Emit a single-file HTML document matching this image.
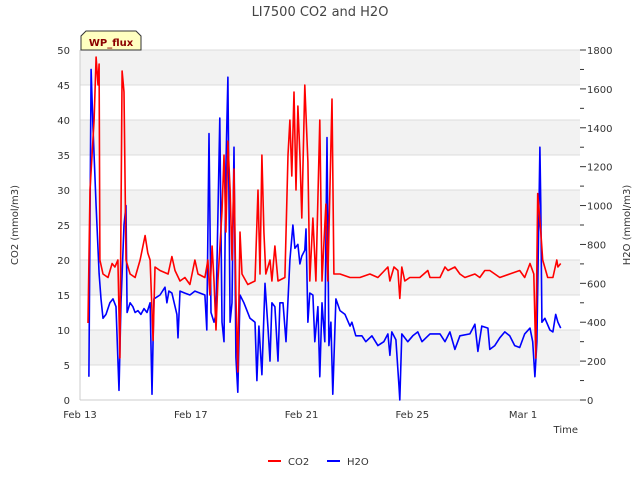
<!DOCTYPE html>
<html><head><meta charset="utf-8"><style>
body{margin:0;background:#fff;font-family:"DejaVu Sans",sans-serif}
svg{display:block}
</style></head><body>
<svg id="c" width="640" height="480" xmlns="http://www.w3.org/2000/svg" font-family="DejaVu Sans, Liberation Sans, sans-serif"></svg>
<script>
const xTickLabels=["Feb 13","Feb 17","Feb 21","Feb 25","Mar 1"];
const xTickDays=[0,4,8,12,16];
const leftTicks=[0,5,10,15,20,25,30,35,40,45,50];
const rightTicks=[0,200,400,600,800,1000,1200,1400,1600,1800];
const co2T=[.29,.36,.51,.58,.65,.69,.72,.83,1.01,1.16,1.26,1.37,1.44,1.52,1.59,1.66,1.81,1.99,2.17,2.35,2.45,2.53,2.64,2.71,2.89,3.18,3.32,3.43,3.61,3.79,3.97,4.15,4.26,4.51,4.62,4.69,4.77,4.84,4.91,4.98,5.13,5.20,5.27,5.34,5.42,5.49,5.56,5.63,5.70,5.78,5.85,6.06,6.32,6.43,6.50,6.57,6.64,6.71,6.86,6.93,7.04,7.15,7.40,7.51,7.58,7.65,7.73,7.80,7.87,7.94,8.01,8.12,8.23,8.30,8.41,8.52,8.66,8.74,8.88,8.95,9.10,9.17,9.39,9.75,10.11,10.47,10.76,11.12,11.19,11.34,11.48,11.55,11.62,11.73,11.91,12.27,12.56,12.64,13.00,13.18,13.29,13.54,13.72,13.90,14.26,14.44,14.62,14.80,15.16,15.52,15.88,16.06,16.25,16.39,16.46,16.53,16.64,16.71,16.89,17.08,17.22,17.26,17.36];
const co2V=[11,30,40,49,45,48,20,18,17.5,19.5,19,20,6,47,44,20,18,17.5,20,23.5,21,20,8.5,19,18.5,18,20.5,18.5,17,17.5,16.5,20,18,17.5,20,15,22,17,10,17,27,35,24,37,30,20,33,15,4,24,18,16.5,17,30,18,35,24,18,20,17,22,17,17.5,35,40,32,44,30,42,35,26,45,34,17,26,17,40,17,28,17,43,18,18,17.5,17.5,18,17.5,19,17,19,18.5,14.5,19,17,17.5,17.5,18.5,17.5,17.5,19,18.5,19,18,17.5,18,17.5,18.5,18.5,17.5,18,18.5,17.5,19.5,18,6,29.5,24,20,17.5,17.5,20,19,19.5];
const h2oT=[.32,.40,.47,.58,.69,.76,.83,.94,1.08,1.19,1.30,1.41,1.48,1.59,1.66,1.70,1.81,1.91,1.99,2.09,2.20,2.31,2.42,2.53,2.60,2.67,2.89,3.07,3.14,3.21,3.32,3.50,3.54,3.61,3.79,3.97,4.15,4.51,4.58,4.66,4.73,4.84,4.91,5.05,5.13,5.20,5.27,5.34,5.42,5.49,5.56,5.63,5.70,5.78,5.92,6.14,6.32,6.39,6.46,6.57,6.68,6.79,6.86,6.93,7.04,7.15,7.22,7.33,7.44,7.58,7.69,7.76,7.87,7.94,8.01,8.12,8.16,8.23,8.30,8.41,8.48,8.59,8.66,8.74,8.84,8.92,8.99,9.06,9.13,9.24,9.39,9.57,9.75,9.82,9.96,10.18,10.32,10.54,10.76,10.97,11.12,11.19,11.26,11.41,11.52,11.55,11.62,11.84,12.02,12.20,12.35,12.64,13.00,13.18,13.36,13.54,13.72,14.08,14.26,14.37,14.51,14.73,14.80,14.98,15.16,15.34,15.52,15.70,15.88,16.06,16.25,16.35,16.43,16.50,16.61,16.64,16.68,16.79,16.97,17.08,17.18,17.26,17.36];
const h2oV=[120,1700,1400,1000,650,520,420,440,500,520,480,50,500,900,1000,450,500,480,450,460,440,470,450,500,30,520,540,580,500,560,550,440,320,560,550,540,560,540,360,1370,450,400,440,1450,400,300,1200,1660,400,500,1300,220,40,540,500,420,400,100,380,130,600,370,200,500,480,200,500,500,300,720,900,780,800,700,740,770,880,400,550,540,300,480,120,500,300,1350,280,400,30,520,460,440,380,400,330,330,300,330,280,300,340,230,350,310,70,0,340,300,330,350,300,340,340,300,350,260,330,340,390,250,380,370,260,280,320,350,330,280,270,340,370,300,120,300,1300,1000,400,420,360,350,440,400,370];

const NS="http://www.w3.org/2000/svg";
const svg=document.getElementById('c');
const L=80,R=580,T=50,B=400;
const xs=d=>L+d*27.69;
const yl=v=>B-(v/50)*(B-T);
const yr=v=>B-(v/1800)*(B-T);
function mk(tag,attrs,parent){const e=document.createElementNS(NS,tag);for(const k in attrs)e.setAttribute(k,attrs[k]);(parent||svg).appendChild(e);return e;}
function txt(s,attrs){const e=mk('text',attrs);e.textContent=s;return e;}

for(let i=0;i<5;i++){const v=45-i*10;
 const r=mk('rect',{x:L,y:yl(v+5),width:R-L,height:yl(v)-yl(v+5),fill:'#f2f2f2'});
 
 }
leftTicks.forEach(v=>{
 const g=mk('line',{x1:L,x2:R,y1:yl(v),y2:yl(v),stroke:'#dcdcdc','stroke-width':1});
 
 
 const t=txt(String(v),{x:70,y:yl(v)+4,'text-anchor':'end','font-size':10,fill:'#333'});
 
 
});
mk('line',{x1:L,x2:L,y1:T,y2:B,stroke:'#ccc'});
mk('line',{x1:L,x2:R,y1:B,y2:B,stroke:'#ccc'});
for(let v=0;v<=1800;v+=100){
 const tk=mk('line',{x1:R,x2:R+(v%200===0?6:4),y1:yr(v),y2:yr(v),stroke:'#333'});
 
 
}
rightTicks.forEach(v=>{
 const t=txt(String(v),{x:587,y:yr(v)+4,'font-size':10,fill:'#333'});
 
 
});
xTickLabels.forEach((s,i)=>{
 const t=txt(s,{x:xs(xTickDays[i]),y:418,'text-anchor':'middle','font-size':10,fill:'#333'});
 
 
});
function line(T2,V,yf,col,name){
 const p=mk('polyline',{points:T2.map((t,i)=>xs(t).toFixed(1)+','+yf(V[i]).toFixed(1)).join(' '),fill:'none',stroke:col,'stroke-width':1.6,'stroke-linejoin':'round'});
 
 
}
line(h2oT,h2oV,yr,'#0000ff','h2o-series');
line(co2T,co2V,yl,'#ff0000','co2-series');

let e;
e=txt('LI7500 CO2 and H2O',{x:320,y:16,'text-anchor':'middle','font-size':13,fill:'#444'});

e=txt('CO2 (mmol/m3)',{x:0,y:0,transform:'translate(18,225) rotate(-90)','text-anchor':'middle','font-size':10,fill:'#333'});

e=txt('H2O (mmol/m3)',{x:0,y:0,transform:'translate(630,225) rotate(-90)','text-anchor':'middle','font-size':10,fill:'#333'});

e=txt('Time',{x:578,y:433,'text-anchor':'end','font-size':10,fill:'#333'});

e=mk('path',{d:'M81,50 L81,36 L86,31 L136,31 L141,36 L141,50 Z',fill:'#ffffc0',stroke:'#333','stroke-width':1});

e=txt('WP_flux',{x:111,y:46,'text-anchor':'middle','font-size':10,'font-weight':'bold',fill:'#8b0000'});

e=mk('line',{x1:268,x2:281,y1:461,y2:461,stroke:'#ff0000','stroke-width':2});

e=txt('CO2',{x:288,y:465,'font-size':10,fill:'#333'});

e=mk('line',{x1:327,x2:340,y1:461,y2:461,stroke:'#0000ff','stroke-width':2});

e=txt('H2O',{x:347,y:465,'font-size':10,fill:'#333'});

</script>
</body></html>
